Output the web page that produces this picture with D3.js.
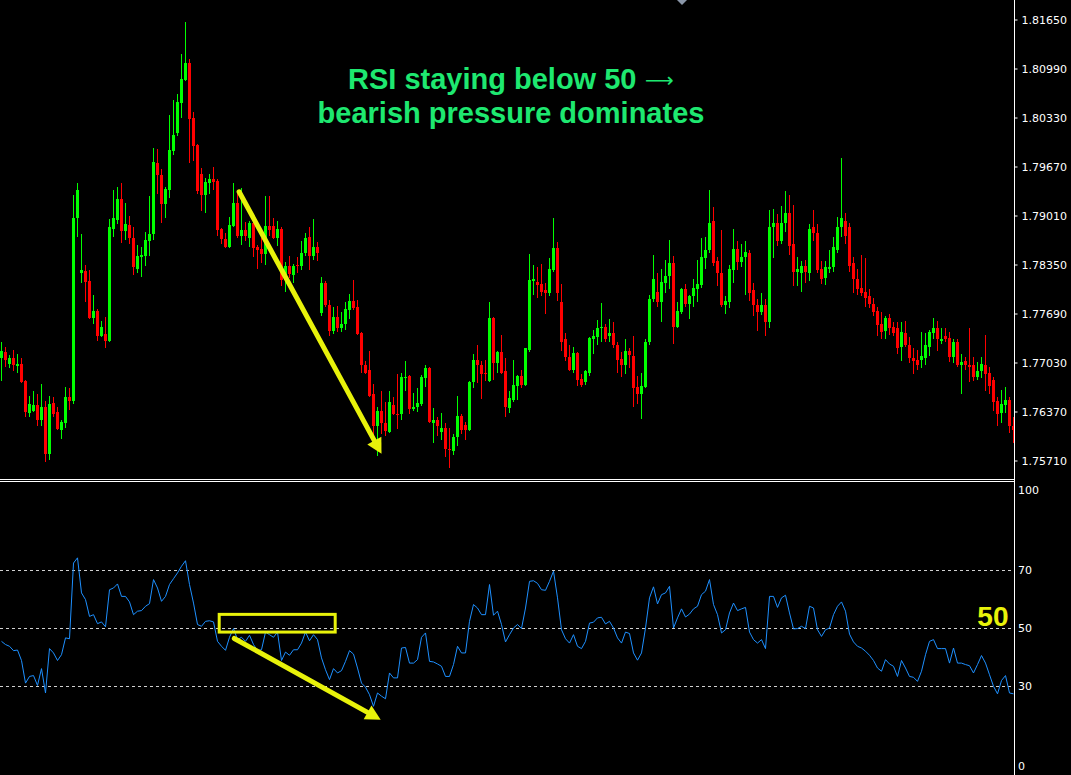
<!DOCTYPE html>
<html>
<head>
  <meta charset="utf-8">
  <script src="https://d3js.org/d3.v7.min.js"></script>
  <style>
    body {
      margin: 0;
      background-color: #000;
    }
    svg {
      display: block;
    }
  </style>
</head>
<body>
  <svg width="1071" height="775"></svg>
  <script>
    // candles, one per bar (oldest first)
    var open = [
      1.7709,1.7717,1.7701,1.7709,1.7698,1.7701,1.7678,1.7635,1.7638,1.7646,
      1.7625,1.7643,1.7580,1.7648,1.7636,1.7612,1.7622,1.7656,1.7651,1.7897,
      1.7824,1.7826,1.7813,1.7763,1.7772,1.7739,1.7741,1.7732,1.7883,1.7895,
      1.7923,1.7880,1.7888,1.7871,1.7829,1.7845,1.7847,1.7867,1.7876,1.7972,
      1.7955,1.7916,1.7935,1.7988,1.8012,1.8052,1.8083,1.8106,1.8032,1.7996,
      1.7957,1.7929,1.7945,1.7950,1.7947,1.7883,1.7869,1.7858,1.7887,1.7918,
      1.7873,1.7881,1.7871,1.7891,1.7858,1.7856,1.7849,1.7887,1.7887,1.7871,
      1.7883,1.7814,1.7833,1.7821,1.7835,1.7833,1.7850,1.7872,1.7847,1.7858,
      1.7770,1.7810,1.7780,1.7746,1.7764,1.7750,1.7755,1.7774,1.7786,1.7778,
      1.7743,1.7700,1.7693,1.7660,1.7618,1.7638,1.7622,1.7610,1.7646,1.7634,
      1.7633,1.7682,1.7685,1.7641,1.7643,1.7647,1.7682,1.7696,1.7622,1.7626,
      1.7610,1.7615,1.7587,1.7584,1.7602,1.7631,1.7619,1.7612,1.7677,1.7707,
      1.7700,1.7689,1.7678,1.7763,1.7703,1.7717,1.7691,1.7642,1.7653,1.7672,
      1.7685,1.7673,1.7720,1.7813,1.7812,1.7809,1.7800,1.7797,1.7828,1.7857,
      1.7784,1.7734,1.7711,1.7693,1.7716,1.7681,1.7677,1.7689,1.7735,1.7738,
      1.7749,1.7751,1.7739,1.7743,1.7727,1.7708,1.7700,1.7719,1.7712,1.7670,
      1.7660,1.7670,1.7730,1.7788,1.7798,1.7784,1.7810,1.7820,1.7837,1.7751,
      1.7771,1.7802,1.7782,1.7792,1.7802,1.7808,1.7844,1.7854,1.7893,1.7840,
      1.7824,1.7780,1.7785,1.7827,1.7856,1.7839,1.7845,1.7851,1.7801,1.7781,
      1.7771,1.7781,1.7757,1.7885,1.7891,1.7866,1.7891,1.7905,1.7863,1.7825,
      1.7824,1.7833,1.7824,1.7885,1.7877,1.7829,1.7817,1.7829,1.7831,1.7855,
      1.7885,1.7894,1.7885,1.7837,1.7816,1.7804,1.7798,1.7792,1.7782,1.7773,
      1.7755,1.7746,1.7763,1.7751,1.7749,1.7724,1.7743,1.7727,1.7709,1.7707,
      1.7707,1.7709,1.7724,1.7743,1.7749,1.7732,1.7739,1.7736,1.7711,1.7730,
      1.7700,1.7705,1.7699,1.7699,1.7684,1.7691,1.7699,1.7689,1.7680,1.7651,
      1.7635,1.7646,1.7653,1.7618
    ];
    var high = [
      1.7731,1.7724,1.7713,1.7720,1.7714,1.7709,1.7680,1.7658,1.7665,1.7661,
      1.7674,1.7651,1.7658,1.7656,1.7643,1.7625,1.7670,1.7669,1.7929,1.7945,
      1.7876,1.7834,1.7827,1.7794,1.7775,1.7759,1.7764,1.7896,1.7935,1.7939,
      1.7945,1.7918,1.7900,1.7885,1.7861,1.7858,1.7879,1.7927,1.7992,1.7990,
      1.7964,1.7939,1.8036,1.8056,1.8065,1.8118,1.8162,1.8112,1.8040,1.7997,
      1.7965,1.7951,1.7957,1.7966,1.7950,1.7884,1.7877,1.7899,1.7945,1.7931,
      1.7938,1.7892,1.7894,1.7892,1.7861,1.7871,1.7927,1.7927,1.7898,1.7894,
      1.7885,1.7838,1.7846,1.7836,1.7845,1.7867,1.7877,1.7885,1.7896,1.7865,
      1.7818,1.7813,1.7787,1.7778,1.7779,1.7771,1.7784,1.7795,1.7814,1.7787,
      1.7744,1.7705,1.7719,1.7674,1.7643,1.7665,1.7650,1.7665,1.7657,1.7688,
      1.7689,1.7705,1.7686,1.7662,1.7669,1.7686,1.7699,1.7697,1.7642,1.7630,
      1.7635,1.7622,1.7615,1.7607,1.7658,1.7634,1.7623,1.7678,1.7714,1.7726,
      1.7705,1.7707,1.7784,1.7764,1.7718,1.7740,1.7709,1.7665,1.7707,1.7686,
      1.7693,1.7723,1.7849,1.7834,1.7832,1.7836,1.7810,1.7844,1.7898,1.7865,
      1.7809,1.7743,1.7727,1.7724,1.7717,1.7687,1.7693,1.7737,1.7747,1.7760,
      1.7783,1.7755,1.7762,1.7758,1.7730,1.7717,1.7735,1.7722,1.7739,1.7685,
      1.7689,1.7735,1.7794,1.7848,1.7824,1.7829,1.7841,1.7868,1.7847,1.7784,
      1.7804,1.7809,1.7794,1.7815,1.7841,1.7871,1.7872,1.7936,1.7912,1.7845,
      1.7882,1.7793,1.7835,1.7883,1.7867,1.7863,1.7867,1.7854,1.7810,1.7789,
      1.7796,1.7788,1.7909,1.7910,1.7903,1.7914,1.7934,1.7929,1.7915,1.7845,
      1.7840,1.7841,1.7890,1.7909,1.7889,1.7840,1.7840,1.7854,1.7872,1.7899,
      1.7978,1.7905,1.7891,1.7845,1.7829,1.7848,1.7844,1.7802,1.7790,1.7778,
      1.7771,1.7766,1.7769,1.7757,1.7758,1.7758,1.7759,1.7738,1.7723,1.7720,
      1.7744,1.7743,1.7747,1.7763,1.7759,1.7749,1.7750,1.7744,1.7734,1.7734,
      1.7715,1.7711,1.7750,1.7711,1.7704,1.7711,1.7740,1.7697,1.7684,1.7656,
      1.7666,1.7670,1.7657,1.7629
    ];
    var low = [
      1.7678,1.7697,1.7696,1.7691,1.7689,1.7676,1.7629,1.7630,1.7637,1.7617,
      1.7617,1.7569,1.7572,1.7630,1.7612,1.7600,1.7615,1.7639,1.7647,1.7872,
      1.7810,1.7785,1.7762,1.7755,1.7732,1.7738,1.7722,1.7731,1.7872,1.7890,
      1.7864,1.7868,1.7863,1.7821,1.7824,1.7818,1.7833,1.7847,1.7868,1.7930,
      1.7891,1.7898,1.7924,1.7983,1.8008,1.8032,1.8082,1.7972,1.7975,1.7930,
      1.7907,1.7904,1.7930,1.7935,1.7873,1.7863,1.7857,1.7857,1.7885,1.7871,
      1.7861,1.7867,1.7858,1.7845,1.7829,1.7837,1.7834,1.7873,1.7869,1.7860,
      1.7806,1.7798,1.7817,1.7810,1.7823,1.7827,1.7847,1.7828,1.7841,1.7840,
      1.7766,1.7778,1.7739,1.7742,1.7744,1.7744,1.7747,1.7762,1.7774,1.7740,
      1.7689,1.7688,1.7657,1.7604,1.7577,1.7607,1.7604,1.7608,1.7632,1.7614,
      1.7626,1.7664,1.7634,1.7638,1.7637,1.7645,1.7670,1.7622,1.7595,1.7604,
      1.7598,1.7576,1.7561,1.7579,1.7591,1.7607,1.7598,1.7611,1.7669,1.7676,
      1.7654,1.7678,1.7677,1.7680,1.7689,1.7688,1.7629,1.7635,1.7650,1.7653,
      1.7668,1.7672,1.7717,1.7794,1.7790,1.7792,1.7769,1.7792,1.7825,1.7786,
      1.7719,1.7705,1.7692,1.7689,1.7672,1.7670,1.7673,1.7685,1.7715,1.7727,
      1.7731,1.7730,1.7731,1.7722,1.7689,1.7684,1.7688,1.7695,1.7643,1.7647,
      1.7627,1.7669,1.7726,1.7784,1.7778,1.7757,1.7796,1.7802,1.7728,1.7750,
      1.7769,1.7778,1.7761,1.7778,1.7784,1.7804,1.7829,1.7851,1.7833,1.7806,
      1.7778,1.7769,1.7777,1.7810,1.7827,1.7832,1.7794,1.7786,1.7766,1.7746,
      1.7767,1.7739,1.7749,1.7844,1.7860,1.7863,1.7879,1.7848,1.7806,1.7806,
      1.7798,1.7810,1.7813,1.7867,1.7824,1.7809,1.7808,1.7823,1.7825,1.7851,
      1.7872,1.7863,1.7825,1.7797,1.7794,1.7792,1.7778,1.7777,1.7766,1.7739,
      1.7735,1.7734,1.7740,1.7739,1.7715,1.7705,1.7724,1.7703,1.7687,1.7693,
      1.7696,1.7700,1.7712,1.7734,1.7719,1.7728,1.7731,1.7704,1.7703,1.7697,
      1.7661,1.7693,1.7677,1.7678,1.7680,1.7682,1.7664,1.7660,1.7638,1.7618,
      1.7621,1.7635,1.7608,1.7595
    ];
    var close = [
      1.7718,1.7706,1.7709,1.7699,1.7701,1.7677,1.7637,1.7647,1.7646,1.7625,
      1.7643,1.7580,1.7647,1.7634,1.7614,1.7623,1.7656,1.7651,1.7898,1.7935,
      1.7827,1.7812,1.7763,1.7772,1.7739,1.7751,1.7732,1.7885,1.7898,1.7923,
      1.7880,1.7889,1.7871,1.7832,1.7846,1.7848,1.7868,1.7876,1.7973,1.7955,
      1.7916,1.7937,1.7989,1.8009,1.8054,1.8085,1.8106,1.8031,1.7994,1.7934,
      1.7929,1.7946,1.7950,1.7946,1.7881,1.7869,1.7858,1.7888,1.7918,1.7873,
      1.7881,1.7873,1.7891,1.7857,1.7854,1.7849,1.7887,1.7881,1.7871,1.7883,
      1.7814,1.7833,1.7822,1.7833,1.7833,1.7850,1.7871,1.7847,1.7858,1.7850,
      1.7810,1.7780,1.7746,1.7764,1.7750,1.7755,1.7775,1.7786,1.7777,1.7742,
      1.7699,1.7689,1.7658,1.7618,1.7638,1.7621,1.7611,1.7650,1.7633,1.7633,
      1.7684,1.7684,1.7641,1.7643,1.7649,1.7684,1.7696,1.7623,1.7625,1.7617,
      1.7615,1.7586,1.7586,1.7603,1.7631,1.7612,1.7612,1.7677,1.7707,1.7699,
      1.7687,1.7687,1.7763,1.7703,1.7717,1.7689,1.7643,1.7655,1.7673,1.7685,
      1.7673,1.7722,1.7814,1.7816,1.7808,1.7798,1.7796,1.7829,1.7857,1.7796,
      1.7731,1.7711,1.7693,1.7716,1.7680,1.7673,1.7691,1.7736,1.7739,1.7749,
      1.7751,1.7735,1.7743,1.7727,1.7707,1.7700,1.7719,1.7713,1.7669,1.7660,
      1.7672,1.7731,1.7789,1.7816,1.7784,1.7812,1.7820,1.7837,1.7751,1.7773,
      1.7802,1.7782,1.7793,1.7804,1.7809,1.7845,1.7855,1.7891,1.7837,1.7823,
      1.7780,1.7786,1.7829,1.7856,1.7839,1.7845,1.7852,1.7797,1.7780,1.7771,
      1.7780,1.7758,1.7886,1.7891,1.7866,1.7891,1.7905,1.7860,1.7825,1.7829,
      1.7833,1.7825,1.7883,1.7877,1.7828,1.7815,1.7831,1.7832,1.7858,1.7886,
      1.7897,1.7874,1.7833,1.7815,1.7802,1.7797,1.7790,1.7782,1.7771,1.7754,
      1.7744,1.7763,1.7749,1.7743,1.7723,1.7744,1.7726,1.7709,1.7705,1.7699,
      1.7712,1.7726,1.7744,1.7749,1.7734,1.7734,1.7734,1.7711,1.7730,1.7700,
      1.7704,1.7699,1.7697,1.7684,1.7692,1.7701,1.7687,1.7672,1.7650,1.7634,
      1.7647,1.7653,1.7617,1.7612
    ];
    // RSI value per bar
    var rsi = [
      45.5,44.4,43.8,42.3,42.5,38.9,31.1,33.4,33.7,30.3,
      36.1,27.7,43.0,41.5,38.9,40.9,46.7,46.4,72.5,74.3,
      62.2,59.9,54.1,54.7,51.6,52.2,50.5,63.3,63.9,65.3,
      61.0,61.0,59.1,54.7,55.9,56.1,57.6,58.5,66.8,63.9,
      59.3,61.0,65.1,67.1,69.1,71.4,73.3,65.1,58.7,51.3,
      50.7,52.4,52.6,52.2,45.5,43.8,42.4,46.9,49.9,46.1,
      46.9,45.5,47.6,44.4,42.3,42.6,48.7,47.8,46.9,48.7,
      38.9,41.8,40.7,42.6,42.6,44.9,48.7,45.7,47.8,46.1,
      39.8,35.7,32.3,36.1,34.6,35.4,38.6,42.3,41.1,36.3,
      31.1,29.7,27.1,23.1,27.7,26.6,25.7,34.6,32.9,32.9,
      43.2,43.4,38.0,38.0,39.2,46.9,48.4,38.6,38.4,37.7,
      36.9,33.4,33.4,37.5,43.8,41.5,41.5,52.4,58.2,57.0,
      54.7,54.7,65.1,54.5,55.9,51.3,45.3,47.8,50.1,51.3,
      49.9,57.0,66.2,66.4,65.5,63.3,63.1,66.2,69.7,60.5,
      49.5,46.4,44.9,47.8,43.8,43.0,45.5,51.8,52.1,53.6,
      53.8,51.5,52.4,50.1,46.7,44.9,48.7,48.2,41.5,39.0,
      41.5,50.1,60.5,64.3,58.4,61.6,62.2,64.5,50.1,53.6,
      56.7,53.9,54.9,56.7,57.6,61.6,62.8,66.8,58.2,54.7,
      48.4,49.5,55.3,58.7,56.1,56.7,57.2,48.7,46.1,44.9,
      46.1,43.0,61.0,61.0,57.2,60.5,61.4,55.3,49.8,49.9,
      50.7,49.9,57.6,57.0,49.5,47.2,49.5,50.1,54.7,57.6,
      59.1,55.9,48.0,45.3,43.8,43.2,42.1,40.7,38.9,36.3,
      35.2,39.2,37.7,36.9,33.4,38.9,36.3,33.4,33.1,31.7,
      35.2,40.9,45.5,46.1,43.0,43.0,43.0,38.0,43.2,38.0,
      38.0,37.5,37.1,34.6,37.5,40.6,38.0,34.0,30.0,27.4,
      32.0,33.7,27.7,27.4
    ];
    var priceTicks = [1.81650, 1.80990, 1.80330, 1.79670, 1.79010, 1.78350, 1.77690, 1.77030, 1.76370, 1.75710];
    var rsiTicks = [100, 70, 50, 30, 0];
    var rsiLevels = [70, 50, 30];

    var svg = d3.select("svg"),
      width = +svg.attr("width"),
      height = +svg.attr("height");

    var axisX = 1014.5;
    var yellow = "#e8f20a";

    svg.append("rect")
      .attr("width", width)
      .attr("height", height)
      .attr("fill", "#000");

    //scales
    var x = d3.scaleLinear().domain([0, 1]).range([0, 4]);
    var y = d3.scaleLinear().domain([1.7571, 1.8165]).range([460.5, 19.5]);
    var ry = d3.scaleLinear().domain([0, 100]).range([773.3, 483.3]);

    var bars = d3.range(open.length);

    //candles
    var candles = svg.append("g")
      .attr("shape-rendering", "crispEdges");

    candles.selectAll("rect.wick")
      .data(bars)
      .enter()
      .append("rect")
      .attr("class", "wick")
      .attr("x", function(i) { return x(i) + 1; })
      .attr("width", 1)
      .attr("y", function(i) { return y(high[i]); })
      .attr("height", function(i) { return Math.max(1, y(low[i]) - y(high[i])); })
      .attr("fill", candleColour);

    candles.selectAll("rect.body")
      .data(bars)
      .enter()
      .append("rect")
      .attr("class", "body")
      .attr("x", function(i) { return x(i); })
      .attr("width", 3)
      .attr("y", function(i) { return y(Math.max(open[i], close[i])); })
      .attr("height", function(i) { return Math.max(1, Math.abs(y(open[i]) - y(close[i]))); })
      .attr("fill", candleColour);

    function candleColour(i) {
      return close[i] >= open[i] ? "#00ff00" : "#ff0000";
    }

    //price axis
    var priceAxis = d3.axisRight(y)
      .tickValues(priceTicks)
      .tickSize(3)
      .tickPadding(4)
      .tickFormat(d3.format(".5f"));

    var pa = svg.append("g")
      .attr("transform", "translate(" + axisX + ",0)")
      .call(priceAxis);
    pa.select(".domain").remove();
    pa.selectAll("line").attr("stroke", "#fff");
    pa.selectAll("text")
      .attr("fill", "#fff")
      .attr("font-family", "DejaVu Sans")
      .attr("font-size", "11px");

    //panel separator
    svg.append("line")
      .attr("x1", 0).attr("x2", axisX)
      .attr("y1", 479.5).attr("y2", 479.5)
      .attr("stroke", "#fff");
    svg.append("line")
      .attr("x1", 0).attr("x2", axisX)
      .attr("y1", 481.5).attr("y2", 481.5)
      .attr("stroke", "#fff");

    //rsi levels
    svg.append("g")
      .selectAll("line")
      .data(rsiLevels)
      .enter()
      .append("line")
      .attr("x1", 0)
      .attr("x2", axisX)
      .attr("y1", function(d) { return Math.round(ry(d)) + 0.5; })
      .attr("y2", function(d) { return Math.round(ry(d)) + 0.5; })
      .attr("stroke", "#d0d0d0")
      .attr("stroke-dasharray", "3,3");

    //rsi line
    var rsiLine = d3.line()
      .x(function(d, i) { return x(i) + 1.5; })
      .y(function(d) { return ry(d); });

    svg.append("path")
      .datum(rsi)
      .attr("d", rsiLine)
      .attr("fill", "none")
      .attr("stroke", "#1e90ff")
      .attr("stroke-width", 1);

    //rsi scale labels (ends are kept inside the panel)
    svg.append("g")
      .selectAll("text")
      .data(rsiTicks)
      .enter()
      .append("text")
      .attr("x", axisX + 3.5)
      .attr("y", function(d) { return Math.min(766, Math.max(490, ry(d))); })
      .attr("dy", "0.35em")
      .text(function(d) { return d; })
      .attr("fill", "#fff")
      .attr("font-family", "DejaVu Sans")
      .attr("font-size", "11px");

    //right axis line
    svg.append("line")
      .attr("x1", axisX).attr("x2", axisX)
      .attr("y1", 0).attr("y2", height)
      .attr("stroke", "#fff");

    //shift marker at the top
    svg.append("path")
      .attr("d", "M677,0 L687,0 L682,5 Z")
      .attr("fill", "#8a96a8");

    /** annotations **/
    function drawArrow(x1, y1, x2, y2, headLen, headW) {
      var dx = x2 - x1, dy = y2 - y1;
      var len = Math.sqrt(dx * dx + dy * dy);
      var ux = dx / len, uy = dy / len;
      var bx = x2 - ux * headLen, by = y2 - uy * headLen;
      svg.append("line")
        .attr("x1", x1).attr("y1", y1)
        .attr("x2", bx + ux * 2).attr("y2", by + uy * 2)
        .attr("stroke", yellow)
        .attr("stroke-width", 5)
        .attr("stroke-linecap", "round");
      svg.append("path")
        .attr("d", "M" + x2 + "," + y2 +
          " L" + (bx - uy * headW) + "," + (by + ux * headW) +
          " L" + (bx + uy * headW) + "," + (by - ux * headW) + " Z")
        .attr("fill", yellow);
    }

    // price trend arrow (bar index, price)
    drawArrow(x(59.4) + 1.5, y(1.7933), x(95.0) + 1.5, y(1.7580), 15, 8);

    // rsi arrow (bar index, rsi)
    drawArrow(x(58.2) + 1.5, ry(46.5), x(94.8) + 1.5, ry(18.5), 15, 8);

    // box around the 50 line
    svg.append("rect")
      .attr("x", x(54.8))
      .attr("y", ry(54.8))
      .attr("width", x(83.8) - x(54.8))
      .attr("height", ry(48.7) - ry(54.8))
      .attr("fill", "none")
      .attr("stroke", yellow)
      .attr("stroke-width", 3);

    svg.append("text")
      .attr("x", axisX - 6)
      .attr("y", ry(50) - 2)
      .attr("text-anchor", "end")
      .attr("font-family", "Liberation Sans, Arial, sans-serif")
      .attr("font-weight", "bold")
      .attr("font-size", "28px")
      .attr("fill", yellow)
      .text("50");

    //title
    var title = svg.append("g")
      .attr("font-family", "Liberation Sans, Arial, sans-serif")
      .attr("font-weight", "bold")
      .attr("font-size", "29px")
      .attr("fill", "#1ee870");

    title.append("text")
      .attr("x", 348)
      .attr("y", 89)
      .text("RSI staying below 50");

    // thin long arrow after the first line
    title.append("text")
      .attr("x", 645)
      .attr("y", 87)
      .attr("font-weight", "normal")
      .attr("font-family", "DejaVu Sans")
      .attr("font-size", "20px")
      .text("\u27F6");

    title.append("text")
      .attr("x", 511)
      .attr("y", 122.5)
      .attr("text-anchor", "middle")
      .text("bearish pressure dominates");
  </script>
</body>
</html>
